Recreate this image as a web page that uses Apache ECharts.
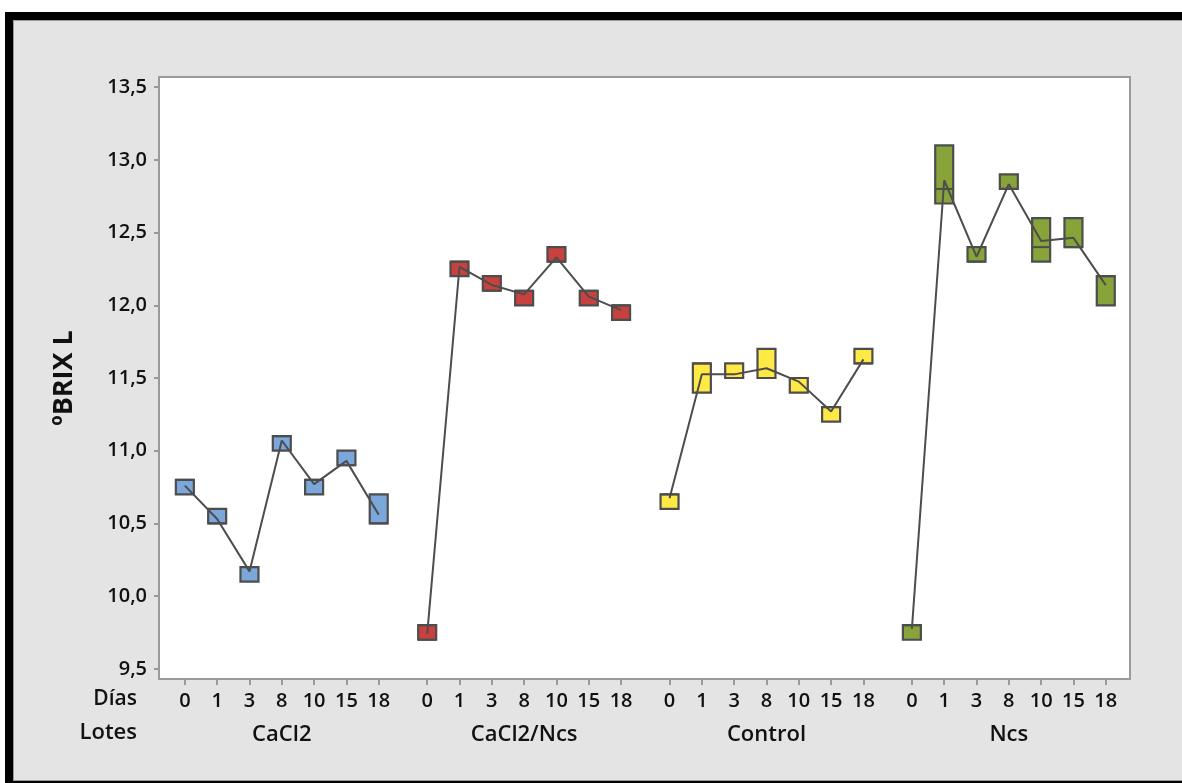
<!DOCTYPE html>
<html><head><meta charset="utf-8">
<script src="https://cdn.jsdelivr.net/npm/echarts@6/dist/echarts.min.js"></script>
<style>
html,body{margin:0;padding:0;background:#fff;width:1182px;height:783px;overflow:hidden}
#outer{position:absolute;left:5px;top:12px;width:1177px;height:771px;background:#000}
#inner{position:absolute;left:13px;top:20px;width:1169px;height:761px;background:#e4e4e4;box-sizing:border-box;border-left:1px solid #9a9a9a;border-top:1px solid #9a9a9a;border-bottom:1px solid #9a9a9a}
#chart{position:absolute;left:0;top:0;width:1182px;height:783px}
</style></head><body>
<div id="outer"></div><div id="inner"></div><div id="chart"></div>
<script>
// ---- data ----
const lotes = ['CaCl2', 'CaCl2/Ncs', 'Control', 'Ncs'];
const dias = ['0', '1', '3', '8', '10', '15', '18'];
const yTicks = [9.5, 10.0, 10.5, 11.0, 11.5, 12.0, 12.5, 13.0, 13.5];

// box bottom (Q1), box top (Q3), median, mean per día
const cacl2Low    = [10.7, 10.5, 10.1, 11.0, 10.7, 10.9, 10.5];
const cacl2High   = [10.8, 10.6, 10.2, 11.1, 10.8, 11.0, 10.7];
const cacl2Median = [10.8, 10.5, 10.2, 11.1, 10.8, 10.9, 10.5];
const cacl2Mean   = [10.76, 10.53, 10.17, 11.07, 10.77, 10.93, 10.56];

const cacl2NcsLow    = [9.7, 12.2, 12.1, 12.0, 12.3, 12.0, 11.9];
const cacl2NcsHigh   = [9.8, 12.3, 12.2, 12.1, 12.4, 12.1, 12.0];
const cacl2NcsMedian = [9.7, 12.3, 12.1, 12.1, 12.3, 12.1, 12.0];
const cacl2NcsMean   = [9.74, 12.265, 12.14, 12.075, 12.33, 12.06, 11.967];

const controlLow    = [10.6, 11.4, 11.5, 11.5, 11.4, 11.2, 11.6];
const controlHigh   = [10.7, 11.6, 11.6, 11.7, 11.5, 11.3, 11.7];
const controlMedian = [10.7, 11.6, 11.5, 11.5, 11.5, 11.3, 11.6];
const controlMean   = [10.673, 11.525, 11.525, 11.567, 11.475, 11.27, 11.628];

const ncsLow    = [9.7, 12.7, 12.3, 12.8, 12.3, 12.4, 12.0];
const ncsHigh   = [9.8, 13.1, 12.4, 12.9, 12.6, 12.6, 12.2];
const ncsMedian = [9.8, 12.8, 12.3, 12.8, 12.4, 12.4, 12.2];
const ncsMean   = [9.775, 12.86, 12.334, 12.833, 12.442, 12.464, 12.139];

const lowSets = [cacl2Low, cacl2NcsLow, controlLow, ncsLow];
const highSets = [cacl2High, cacl2NcsHigh, controlHigh, ncsHigh];
const medianSets = [cacl2Median, cacl2NcsMedian, controlMedian, ncsMedian];
const meanSets = [cacl2Mean, cacl2NcsMean, controlMean, ncsMean];

// ---- layout / style ----
const colors = ['#7ba7db', '#c8413f', '#ffea45', '#88a33a'];
const GROUP_STEP = 7.5;
const FONT = '"Open Sans", "Noto Sans", sans-serif';
const AXIS_GRAY = '#9a9a9a';
const EDGE = '#4d4d4d';

const dayPos = [], dayLabelMap = {}, groupPos = [], groupLabelMap = {};
lotes.forEach((l, g) => {
  dias.forEach((d, i) => {
    const p = g * GROUP_STEP + i;
    dayPos.push(p);
    dayLabelMap[p.toFixed(1)] = d;
  });
  const c = g * GROUP_STEP + 3;
  groupPos.push(c);
  groupLabelMap[c.toFixed(1)] = l;
});

const series = [];
lotes.forEach((l, g) => {
  const boxData = dias.map((d, i) => [g * GROUP_STEP + i, lowSets[g][i], highSets[g][i], medianSets[g][i]]);
  series.push({
    type: 'custom',
    name: l,
    xAxisIndex: 0,
    z: 2,
    data: boxData,
    renderItem: function (params, api) {
      const x = api.value(0);
      const top = api.coord([x, api.value(2)]);
      const bot = api.coord([x, api.value(1)]);
      const med = api.coord([x, api.value(3)]);
      const w = 18;
      return {
        type: 'group',
        children: [
          { type: 'rect', shape: { x: top[0] - w / 2, y: top[1], width: w, height: bot[1] - top[1] },
            style: { fill: colors[g], stroke: EDGE, lineWidth: 2.2 } },
          { type: 'line', shape: { x1: top[0] - w / 2, y1: med[1], x2: top[0] + w / 2, y2: med[1] },
            style: { stroke: EDGE, lineWidth: 2 } }
        ]
      };
    }
  });
  series.push({
    type: 'line',
    xAxisIndex: 0,
    z: 5,
    showSymbol: false,
    symbol: 'none',
    silent: true,
    data: dias.map((d, i) => [g * GROUP_STEP + i, meanSets[g][i]]),
    lineStyle: { color: '#4d4d4d', width: 2 }
  });
});

const chart = echarts.init(document.getElementById('chart'), null, { renderer: 'canvas' });
chart.setOption({
  backgroundColor: 'transparent',
  animation: false,
  grid: {
    left: 159, right: 52, top: 77, bottom: 104,
    show: true, backgroundColor: '#ffffff', borderColor: AXIS_GRAY, borderWidth: 2,
    outerBoundsMode: 'none'
  },
  xAxis: [
    {
      type: 'value', min: -0.8, max: 29.25, position: 'bottom',
      splitLine: { show: false },
      axisLine: { show: true, onZero: false, lineStyle: { color: AXIS_GRAY, width: 2 } },
      axisTick: { show: true, customValues: dayPos, length: 6, lineStyle: { color: AXIS_GRAY, width: 2 } },
      axisLabel: {
        customValues: dayPos, margin: 12,
        formatter: v => dayLabelMap[(Math.round(v * 10) / 10).toFixed(1)] || '',
        color: '#111', fontSize: 20, fontWeight: 600, fontFamily: FONT
      }
    },
    {
      type: 'value', min: -0.8, max: 29.25, position: 'bottom',
      splitLine: { show: false },
      axisLine: { show: false, onZero: false }, axisTick: { show: false },
      axisLabel: {
        customValues: groupPos, margin: 45,
        formatter: v => groupLabelMap[(Math.round(v * 10) / 10).toFixed(1)] || '',
        color: '#111', fontSize: 22, fontWeight: 600, fontFamily: FONT
      }
    }
  ],
  yAxis: {
    type: 'value', min: 9.43, max: 13.57,
    name: 'ºBRIX L', nameLocation: 'middle', nameGap: 81,
    nameTextStyle: { color: '#111', fontSize: 27, fontWeight: 700, fontFamily: FONT },
    splitLine: { show: false },
    axisLine: { show: true, onZero: false, lineStyle: { color: AXIS_GRAY, width: 2 } },
    axisTick: { show: true, customValues: yTicks, length: 5, lineStyle: { color: AXIS_GRAY, width: 2 } },
    axisLabel: {
      customValues: yTicks, margin: 12,
      formatter: v => v.toFixed(1).replace('.', ','),
      color: '#111', fontSize: 20, fontWeight: 600, fontFamily: FONT
    }
  },
  graphic: [
    { type: 'text', right: 1182 - 137, top: 689, style: { text: 'Días', fill: '#111', fontSize: 21, fontWeight: 600, fontFamily: FONT, textAlign: 'right' } },
    { type: 'text', right: 1182 - 137, top: 722, style: { text: 'Lotes', fill: '#111', fontSize: 22, fontWeight: 600, fontFamily: FONT, textAlign: 'right' } }
  ],
  series: series
});
</script>
</body></html>
